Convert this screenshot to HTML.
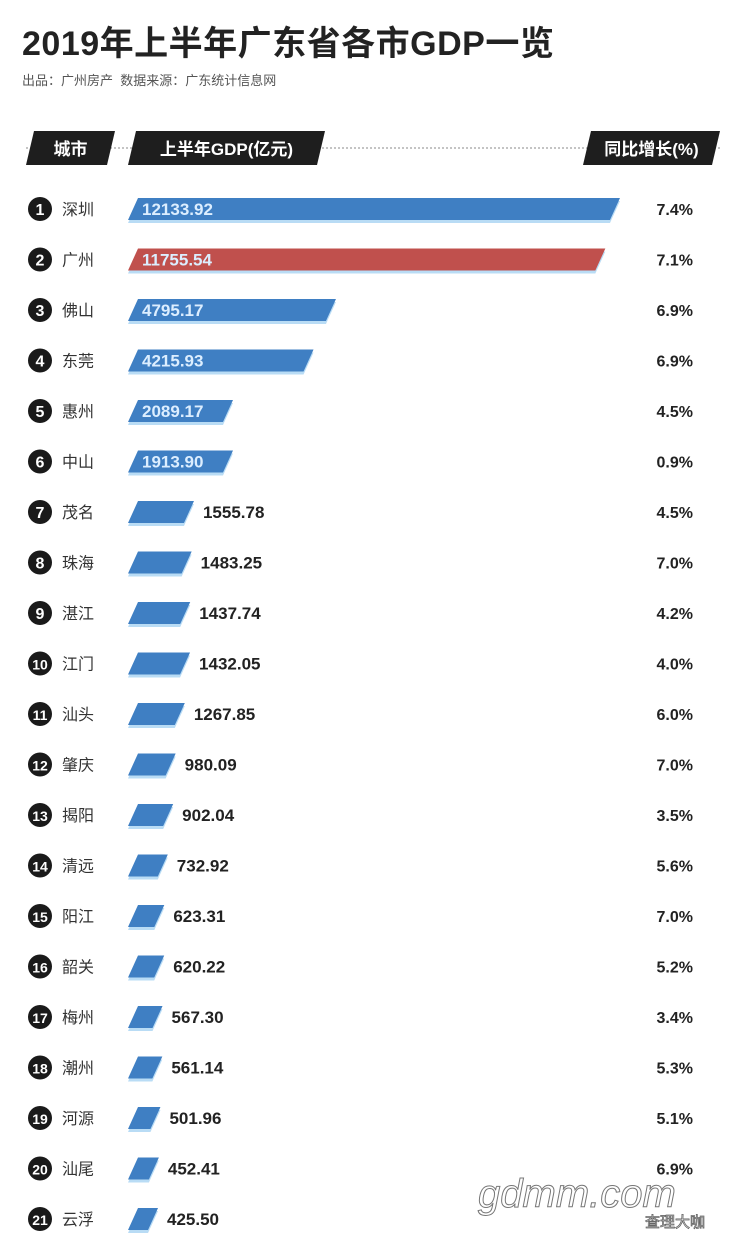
<!DOCTYPE html>
<html><head><meta charset="utf-8">
<style>
body{margin:0;background:#fff;font-family:"Liberation Sans","Noto Sans CJK SC",sans-serif;}
#wrap{position:relative;width:742px;height:1255px;overflow:hidden;background:#fff;}
.title{position:absolute;left:22px;top:16px;font-size:34px;font-weight:bold;color:#222;letter-spacing:0.5px;}
.sub{position:absolute;left:22px;top:70px;font-size:13px;color:#555;}
</style></head>
<body>
<div id="wrap">
<div class="title">2019年上半年广东省各市GDP一览</div>
<div class="sub">出品：广州房产&nbsp;&nbsp;数据来源：广东统计信息网</div>
<svg id="chart" width="742" height="1255" style="position:absolute;left:0;top:0"></svg>
</div>
<script>
const cities=["深圳","广州","佛山","东莞","惠州","中山","茂名","珠海","湛江","江门","汕头","肇庆","揭阳","清远","阳江","韶关","梅州","潮州","河源","汕尾","云浮"];
const gdp=[12133.92,11755.54,4795.17,4215.93,2089.17,1913.90,1555.78,1483.25,1437.74,1432.05,1267.85,980.09,902.04,732.92,623.31,620.22,567.30,561.14,501.96,452.41,425.50];
const growth=[7.4,7.1,6.9,6.9,4.5,0.9,4.5,7.0,4.2,4.0,6.0,7.0,3.5,5.6,7.0,5.2,3.4,5.3,5.1,6.9,4.2];
const NS="http://www.w3.org/2000/svg";
const svg=document.getElementById('chart');
function mk(t,a){const e=document.createElementNS(NS,t);for(const k in a)e.setAttribute(k,a[k]);svg.appendChild(e);return e;}
function extent(v){return v>=1800?22.4+0.0387*v:16.5+0.0318*v;}
function yc(i){return 209+i*50.5;}
let dl=mk('line',{x1:26,x2:720,y1:148,y2:148,stroke:'#888','stroke-dasharray':'2,2','stroke-width':1});


const tabs=[[26,115,'城市','city-header'],[128,325,'上半年GDP(亿元)','gdp-header'],[583,720,'同比增长(%)','growth-header']];
tabs.forEach(t=>{
  const p=mk('polygon',{points:`${t[0]+8},131 ${t[1]},131 ${t[1]-8},165 ${t[0]},165`,fill:'#1e1e1e'});
  
  
  const tx=mk('text',{x:(t[0]+t[1])/2,y:155,'text-anchor':'middle','font-size':17,'font-weight':'bold',fill:'#fff'});
  tx.textContent=t[2];
  
  
});
gdp.forEach((v,i)=>{
  const y=yc(i), inside=i<6;
  let E=extent(v); if(inside) E=Math.max(E,105);
  const ww=E-10;
  const color=i===1?'#c0504d':'#3f7fc3';
  const sh=mk('polygon',{points:`${138},${y-8} ${128+ww+10},${y-8} ${128+ww},${y+14} ${128},${y+14}`,fill:'#b9dcf5'});
  
  
  const b=mk('polygon',{points:`${138},${y-11} ${128+ww+10},${y-11} ${128+ww},${y+11} ${128},${y+11}`,fill:color});
  
  
  const c=mk('circle',{cx:40,cy:y,r:12,fill:'#1a1a1a'});
  
  
  const n=mk('text',{x:40,y:y+6,'text-anchor':'middle','font-size':i>=9?14:16,'font-weight':'bold',fill:'#fff'});
  n.textContent=i+1;
  
  
  const cn=mk('text',{x:62,y:y+6,'font-size':16,fill:'#333'});
  cn.textContent=cities[i];
  
  
  const vl=mk('text',{x:inside?142:128+E+9,y:y+6,'font-size':17,'font-weight':'bold',fill:inside?'#dceeff':'#222'});
  vl.textContent=v.toFixed(2);
  
  
  if(i<20){
    const g=mk('text',{x:693,y:y+6,'text-anchor':'end','font-size':16,'font-weight':'bold',fill:'#222'});
    g.textContent=growth[i].toFixed(1)+'%';
    
    
  }
});
const wm=mk('text',{x:478,y:1207,'font-size':40,fill:'#fff',stroke:'#777','stroke-width':1,'font-style':'italic'});
wm.textContent='gdmm.com';


const wm2=mk('text',{x:645,y:1227,'font-size':15,fill:'#fff',stroke:'#666','stroke-width':0.8});
wm2.textContent='查理大咖';


</script>
</body></html>
